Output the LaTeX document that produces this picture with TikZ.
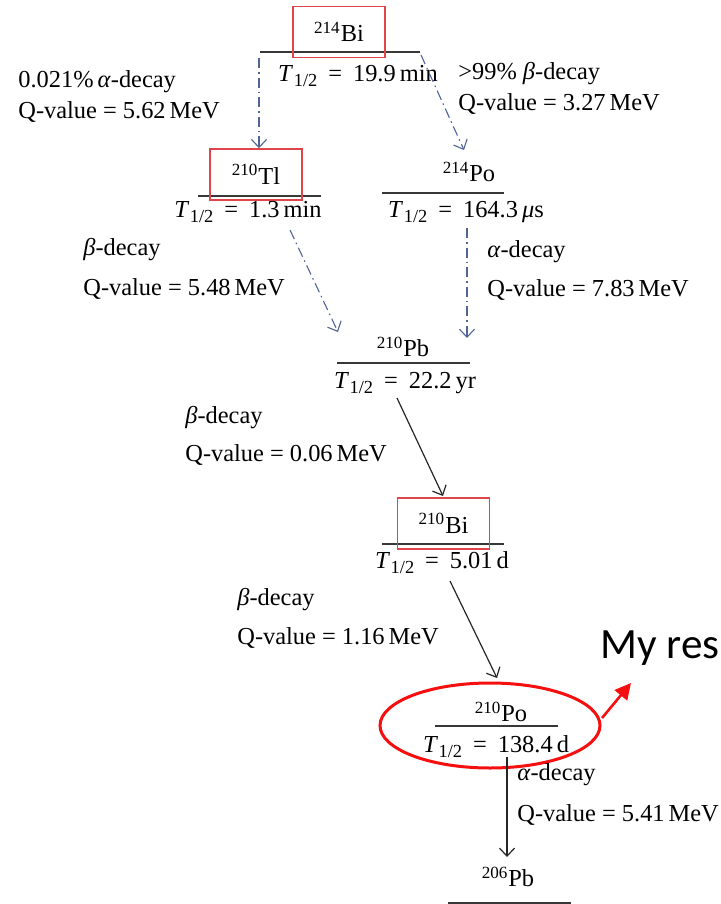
\documentclass[tikz,border=0pt]{standalone}
\usepackage{fontspec}
\setmainfont{Liberation Serif}
\newfontfamily\calloutfont{Carlito}
\usetikzlibrary{arrows.meta,shapes.geometric}
\definecolor{boxred}{RGB}{222,70,76}
\definecolor{ellred}{RGB}{245,15,15}
\definecolor{dashblue}{RGB}{80,100,150}
\definecolor{levelgray}{RGB}{55,55,55}
\newcommand{\thalf}{\textit{T}\kern0.3pt\raisebox{-0.45ex}{\fontsize{9.2}{10}\selectfont 1/2}\hspace{0.45em}=\hspace{0.45em}}
\tikzset{
  txt/.style={inner sep=0pt, font=\fontsize{12.2}{14}\selectfont},
  lbl/.style={txt, anchor=west},
  redbox/.style={txt, draw=boxred, line width=0.75pt, minimum width=46pt, minimum height=25.5pt},
  level/.style={levelgray, line width=1pt},
  dasharrow/.style={dashblue, line width=0.55pt, dash pattern=on 5pt off 2pt on 0.8pt off 2pt,
     -{Straight Barb[length=4pt,width=7.5pt]}},
  solidarrow/.style={black!85, line width=0.6pt, -{Straight Barb[length=4pt,width=7.5pt]}},
}
\begin{document}
\begin{tikzpicture}[x=0.5pt,y=-0.5pt]
\useasboundingbox (0,0) rectangle (720,904);

% ---- 214Bi ----
\draw[level] (260,52) coordinate (bi214l) -- (420,52) coordinate (bi214r);
\node[redbox] (bi214) at (339,32) {\textsuperscript{214}Bi};
\node[txt] (bi214t) at (358,76) {\thalf 19.9\,min};

\node[lbl] (l1a) at (18,82) {0.021\%\,\textit{α}-decay};
\node[lbl] (l1b) at (18,112) {Q-value = 5.62\,MeV};
\node[lbl] (l2a) at (458,74) {>99\% \textit{β}-decay};
\node[lbl] (l2b) at (458,104) {Q-value = 3.27\,MeV};

% ---- 210Tl ----
\draw[level] (198,196) -- (321,196);
\node[redbox] (tl210) at (256,174.5) {\textsuperscript{210}Tl};
\node[txt] (tl210t) at (248,212) {\thalf 1.3\,min};
\node[lbl] (l3a) at (83,250) {\textit{β}-decay};
\node[lbl] (l3b) at (83,289) {Q-value = 5.48\,MeV};

% ---- 214Po ----
\node[txt] (po214) at (469,172) {\textsuperscript{214}Po};
\draw[level] (382,193) -- (504,193);
\node[txt] (po214t) at (466,212) {\thalf 164.3\,\textit{μ}s};
\node[lbl] (l4a) at (487,252) {\textit{α}-decay};
\node[lbl] (l4b) at (487,290) {Q-value = 7.83\,MeV};

% ---- 210Pb ----
\node[txt] (pb210) at (403,347) {\textsuperscript{210}Pb};
\draw[level] (337,363) -- (470,363);
\node[txt] (pb210t) at (405,383) {\thalf 22.2\,yr};
\node[lbl] (l5a) at (185,418) {\textit{β}-decay};
\node[lbl] (l5b) at (185,455) {Q-value = 0.06\,MeV};

% ---- 210Bi ----
\draw[level] (382,544) -- (504,544);
\node[redbox] (bi210) at (443.5,523.5) {\textsuperscript{210}Bi};
\node[txt] (bi210t) at (442,563) {\thalf 5.01\,d};
\node[lbl] (l6a) at (237,600) {\textit{β}-decay};
\node[lbl] (l6b) at (237,638) {Q-value = 1.16\,MeV};

% ---- 210Po ----
\node[txt] (po210) at (501,712) {\textsuperscript{210}Po};
\draw[level] (435,726) -- (558,726);
\node[txt] (po210t) at (496,747) {\thalf 138.4\,d};
\node[draw=ellred, line width=1.5pt, ellipse, minimum width=110pt, minimum height=42.5pt, inner sep=0pt] (circ) at (490,725.5) {};
\node[lbl] (l7a) at (517,775) {\textit{α}-decay};
\node[lbl] (l7b) at (517,815) {Q-value = 5.41\,MeV};

% ---- 206Pb ----
\node[txt] (pb206) at (508,877) {\textsuperscript{206}Pb};
\draw[level] (448,902.5) -- (571,902.5);

% ---- callout ----
\node[anchor=base west, inner sep=0pt, font=\calloutfont\fontsize{21.6}{24}\selectfont] (note) at (600,658) {My res};
\coordinate (notetip) at (631,683);
\draw[ellred, line width=1.3pt, -{Triangle[length=8pt,width=8pt]}] (602,718) coordinate (notestart) -- (notetip);

% ---- connectors ----
\coordinate (a1s) at (259,58);
\draw[dasharrow] (a1s) -- (a1s |- tl210.north);
\coordinate (a2s) at (421,55);
\coordinate (a2e) at (464,150);
\draw[dasharrow] (a2s) -- (a2e);
\coordinate (a3s) at (290,230);
\coordinate (a3e) at (338,332);
\draw[dasharrow] (a3s) -- (a3e);
\coordinate (a4s) at (467,228);
\coordinate (a4e) at (467,338);
\draw[dasharrow] (a4s) -- (a4e);
\coordinate (a5s) at (397,398);
\draw[solidarrow] (a5s) -- (443,496) coordinate (a5e);
\coordinate (a6s) at (450,581);
\draw[solidarrow] (a6s) -- (497,678) coordinate (a6e);
\coordinate (a7s) at (507,757);
\draw[solidarrow] (a7s) -- (507,857) coordinate (a7e);
\end{tikzpicture}
\end{document}
